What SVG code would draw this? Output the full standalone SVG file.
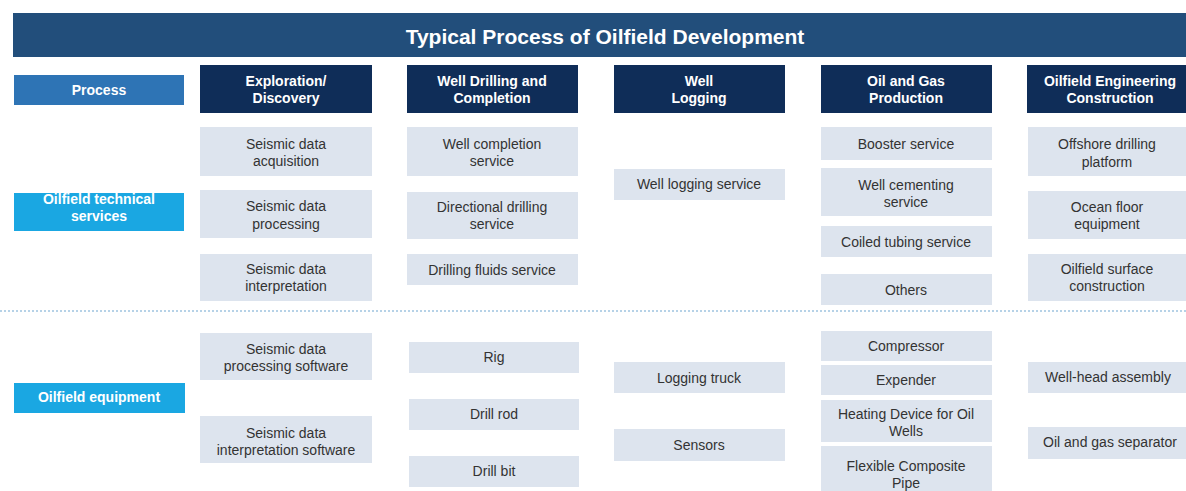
<svg xmlns="http://www.w3.org/2000/svg" width="1186" height="491" viewBox="0 0 1186 491">
<style>
text{font-family:"Liberation Sans",Arial,sans-serif;text-anchor:middle;dominant-baseline:central}
.title{fill:#fff;font-size:21px;font-weight:bold}
.hd rect{fill:#0f2d58}
.hd text{fill:#fff;font-size:14px;font-weight:bold}
.pr rect{fill:#2e74b5}
.pr text{fill:#fff;font-size:14px;font-weight:bold}
.cat rect{fill:#1aa7e2}
.cat text{fill:#fff;font-size:14px;font-weight:bold}
.it rect{fill:#dde4ee}
.it text{fill:#333;font-size:14px}
.sep{stroke:#9fc3df;stroke-width:1.5;stroke-dasharray:2 2}
</style>
<rect width="1186" height="491" fill="#fff"/>
<g id="title"><rect x="13" y="13" width="1173" height="44" fill="#224e7b"/><text class="title" x="605" y="36">Typical Process of Oilfield Development</text></g>

<g id="process" class="pr"><rect x="14" y="75" width="170" height="30"/><text x="99" y="90">Process</text></g>
<g id="h-exploration" class="hd"><rect x="200" y="65" width="172" height="48"/><text x="286" y="81">Exploration/</text><text x="286" y="98">Discovery</text></g>
<g id="h-drilling" class="hd"><rect x="407" y="65" width="171" height="48"/><text x="492" y="81">Well Drilling and</text><text x="492" y="98">Completion</text></g>
<g id="h-logging" class="hd"><rect x="614" y="65" width="171" height="48"/><text x="699" y="81">Well</text><text x="699" y="98">Logging</text></g>
<g id="h-production" class="hd"><rect x="821" y="65" width="171" height="48"/><text x="906" y="81">Oil and Gas</text><text x="906" y="98">Production</text></g>
<g id="h-construction" class="hd"><rect x="1027" y="65" width="159" height="48"/><text x="1110" y="81">Oilfield Engineering</text><text x="1110" y="98">Construction</text></g>

<g id="c-services" class="cat"><rect x="14" y="193" width="170" height="38"/><text x="99" y="199">Oilfield technical</text><text x="99" y="216">services</text></g>
<g id="c-equipment" class="cat"><rect x="14" y="383" width="171" height="30"/><text x="99" y="397">Oilfield equipment</text></g>

<g id="n-sda" class="it"><rect x="200" y="127" width="172" height="49"/><text x="286" y="144">Seismic data</text><text x="286" y="161">acquisition</text></g>
<g id="n-sdp" class="it"><rect x="200" y="190" width="172" height="48"/><text x="286" y="206">Seismic data</text><text x="286" y="224">processing</text></g>
<g id="n-sdi" class="it"><rect x="200" y="254" width="172" height="47"/><text x="286" y="269">Seismic data</text><text x="286" y="286">interpretation</text></g>
<g id="n-wcs" class="it"><rect x="407" y="127" width="171" height="49"/><text x="492" y="144">Well completion</text><text x="492" y="161">service</text></g>
<g id="n-dds" class="it"><rect x="407" y="192" width="171" height="47"/><text x="492" y="207">Directional drilling</text><text x="492" y="224">service</text></g>
<g id="n-dfs" class="it"><rect x="407" y="254" width="171" height="31"/><text x="492" y="270">Drilling fluids service</text></g>
<g id="n-wls" class="it"><rect x="614" y="169" width="171" height="31"/><text x="699" y="184">Well logging service</text></g>
<g id="n-bs" class="it"><rect x="821" y="127" width="171" height="33"/><text x="906" y="144">Booster service</text></g>
<g id="n-wcm" class="it"><rect x="821" y="168" width="171" height="48"/><text x="906" y="185">Well cementing</text><text x="906" y="202">service</text></g>
<g id="n-cts" class="it"><rect x="821" y="226" width="171" height="31"/><text x="906" y="242">Coiled tubing service</text></g>
<g id="n-oth" class="it"><rect x="821" y="274" width="171" height="31"/><text x="906" y="290">Others</text></g>
<g id="n-odp" class="it"><rect x="1028" y="127" width="158" height="49"/><text x="1107" y="144">Offshore drilling</text><text x="1107" y="162">platform</text></g>
<g id="n-ofe" class="it"><rect x="1028" y="191" width="158" height="48"/><text x="1107" y="207">Ocean floor</text><text x="1107" y="224">equipment</text></g>
<g id="n-osc" class="it"><rect x="1028" y="254" width="158" height="47"/><text x="1107" y="269">Oilfield surface</text><text x="1107" y="286">construction</text></g>

<g id="n-sdps" class="it"><rect x="200" y="333" width="172" height="47"/><text x="286" y="349">Seismic data</text><text x="286" y="366">processing software</text></g>
<g id="n-sdis" class="it"><rect x="200" y="416" width="172" height="47"/><text x="286" y="433">Seismic data</text><text x="286" y="450">interpretation software</text></g>
<g id="n-rig" class="it"><rect x="409" y="342" width="170" height="31"/><text x="494" y="357">Rig</text></g>
<g id="n-rod" class="it"><rect x="409" y="399" width="170" height="31"/><text x="494" y="414">Drill rod</text></g>
<g id="n-bit" class="it"><rect x="409" y="456" width="170" height="31"/><text x="494" y="471">Drill bit</text></g>
<g id="n-truck" class="it"><rect x="614" y="362" width="171" height="31"/><text x="699" y="378">Logging truck</text></g>
<g id="n-sens" class="it"><rect x="614" y="429" width="171" height="32"/><text x="699" y="445">Sensors</text></g>
<g id="n-comp" class="it"><rect x="821" y="331" width="171" height="30"/><text x="906" y="346">Compressor</text></g>
<g id="n-exp" class="it"><rect x="821" y="365" width="171" height="30"/><text x="906" y="380">Expender</text></g>
<g id="n-heat" class="it"><rect x="821" y="400" width="171" height="42"/><text x="906" y="414">Heating Device for Oil</text><text x="906" y="431">Wells</text></g>
<g id="n-pipe" class="it"><rect x="821" y="446" width="171" height="45"/><text x="906" y="466">Flexible Composite</text><text x="906" y="483">Pipe</text></g>
<g id="n-whead" class="it"><rect x="1028" y="362" width="158" height="31"/><text x="1108" y="377">Well-head assembly</text></g>
<g id="n-sep" class="it"><rect x="1028" y="427" width="158" height="32"/><text x="1110" y="442">Oil and gas separator</text></g>

<g id="connectors"><line class="sep" x1="0" y1="311" x2="1186" y2="311"/></g>
</svg>
